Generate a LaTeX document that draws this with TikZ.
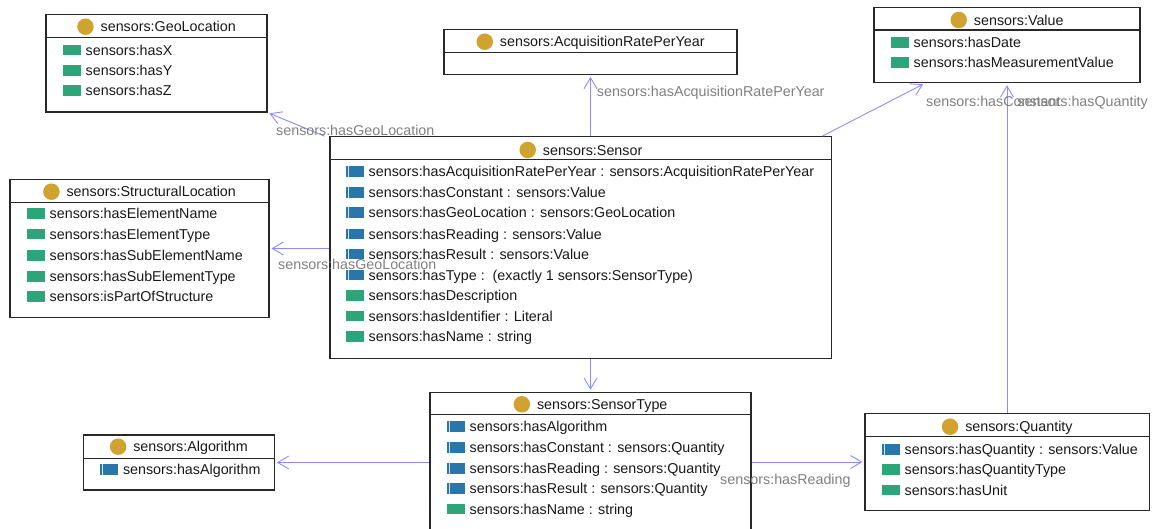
\documentclass[tikz,border=0pt]{standalone}
\usepackage{fontspec}
\setmainfont{Liberation Sans}
\usetikzlibrary{arrows.meta,fit}
\definecolor{goldc}{RGB}{208,162,48}
\definecolor{greenic}{RGB}{44,166,120}
\definecolor{blueic}{RGB}{40,118,170}
\definecolor{connc}{RGB}{140,140,255}
\definecolor{labc}{RGB}{128,128,128}
\definecolor{boxc}{RGB}{40,40,40}
\definecolor{txtc}{RGB}{25,25,25}
\tikzset{
  clsbox/.style={draw=boxc, line width=1.1pt, inner sep=0pt, fill=white},
  divl/.style={draw=boxc, line width=1.1pt},
  ttl/.style={anchor=center, inner sep=0pt, text height=10.3pt, text depth=0pt,
    font=\fontsize{14.3}{16}\selectfont, text=txtc},
  rowtxt/.style={anchor=west, inner sep=0pt, text height=10.3pt, text depth=0pt,
    font=\fontsize{14.3}{16}\selectfont, text=txtc},
  golddot/.style={circle, fill=goldc, minimum size=16.5pt, inner sep=0pt},
  dataicon/.style={rectangle, fill=greenic, minimum width=18pt, minimum height=10.5pt, inner sep=0pt},
  objicon/.style={rectangle, fill=blueic, minimum width=18pt, minimum height=10.5pt, inner sep=0pt,
    path picture={\draw[white!80!blueic, line width=1pt]
      ([xshift=2.6pt]path picture bounding box.south west) --
      ([xshift=2.6pt]path picture bounding box.north west);}},
  conn/.style={draw=connc, line width=0.9pt, -{Straight Barb[length=11pt,width=13pt]}, shorten >=2pt},
  lab/.style={inner sep=0pt, text height=10.3pt, text depth=0pt,
    font=\fontsize{14.3}{16}\selectfont, text=labc}
}
% #1 name, #2 centre x of box, #3 y, #4 text
\newcommand\ctitle[4]{%
  \node[ttl] (#1) at (#2+11.75,#3) {#4};
  \node[golddot] (#1-dot) at ([xshift=-15pt]#1.west) {};}
% #1 name, #2 box left x, #3 y, #4 icon style, #5 text
\newcommand\prow[5]{%
  \node[#4] (#1-i) at (#2+25.5,#3) {};
  \node[rowtxt] (#1) at (#2+39.5,#3) {#5};}
\begin{document}
\begin{tikzpicture}[x=1pt,y=-1pt]
\clip (0,0) rectangle (1153,529);
\fill[white] (0,0) rectangle (1153,529);

% GeoLocation
\node[clsbox, fit={(46,14.7) (267,112)}] (geo) {};
\draw[divl] (46,37.7) -- (267,37.7);
\ctitle{geo-t}{156.5}{26.7}{sensors:GeoLocation}
\prow{geo-1}{46}{50}{dataicon}{sensors:hasX}
\prow{geo-2}{46}{70.3}{dataicon}{sensors:hasY}
\prow{geo-3}{46}{90.7}{dataicon}{sensors:hasZ}

% AcquisitionRatePerYear
\node[clsbox, fit={(444,29.3) (737,74.3)}] (acq) {};
\draw[divl] (444,52.3) -- (737,52.3);
\ctitle{acq-t}{590.5}{41.7}{sensors:AcquisitionRatePerYear}

% Value
\node[clsbox, fit={(874,7.3) (1140,82.7)}] (value) {};
\draw[divl] (874,30) -- (1140,30);
\ctitle{value-t}{1007}{20}{sensors:Value}
\prow{value-1}{874}{42.7}{dataicon}{sensors:hasDate}
\prow{value-2}{874}{62.7}{dataicon}{sensors:hasMeasurementValue}

% StructuralLocation
\node[clsbox, fit={(10,179.3) (269,317.7)}] (struct) {};
\draw[divl] (10,202.7) -- (269,202.7);
\ctitle{struct-t}{139.5}{191.7}{sensors:StructuralLocation}
\prow{struct-1}{10}{213.3}{dataicon}{sensors:hasElementName}
\prow{struct-2}{10}{234}{dataicon}{sensors:hasElementType}
\prow{struct-3}{10}{255.7}{dataicon}{sensors:hasSubElementName}
\prow{struct-4}{10}{276.7}{dataicon}{sensors:hasSubElementType}
\prow{struct-5}{10}{296.7}{dataicon}{sensors:isPartOfStructure}

% Sensor
\node[clsbox, fit={(330,136.7) (831.7,358.3)}] (sensor) {};
\draw[divl] (330,159.3) -- (831.7,159.3);
\ctitle{sensor-t}{580.85}{150}{sensors:Sensor}
\prow{sensor-1}{329}{171.7}{objicon}{sensors:hasAcquisitionRatePerYear : sensors:AcquisitionRatePerYear}
\prow{sensor-2}{329}{192.3}{objicon}{sensors:hasConstant : sensors:Value}
\prow{sensor-3}{329}{212.3}{objicon}{sensors:hasGeoLocation : sensors:GeoLocation}
\prow{sensor-4}{329}{234}{objicon}{sensors:hasReading : sensors:Value}
\prow{sensor-5}{329}{254}{objicon}{sensors:hasResult : sensors:Value}
\prow{sensor-6}{329}{275}{objicon}{sensors:hasType :\ \ (exactly 1 sensors:SensorType)}
\prow{sensor-7}{329}{295.7}{dataicon}{sensors:hasDescription}
\prow{sensor-8}{329}{316}{dataicon}{sensors:hasIdentifier : Literal}
\prow{sensor-9}{329}{336.7}{dataicon}{sensors:hasName : string}

% Algorithm
\node[clsbox, fit={(83.3,435) (274.3,490)}] (algo) {};
\draw[divl] (83.3,458.3) -- (274.3,458.3);
\ctitle{algo-t}{178.8}{446.7}{sensors:Algorithm}
\prow{algo-1}{83.3}{469.3}{objicon}{sensors:hasAlgorithm}

% SensorType
\node[clsbox, fit={(430,392.3) (751,545)}] (stype) {};
\draw[divl] (430,414.3) -- (751,414.3);
\ctitle{stype-t}{590.5}{404.3}{sensors:SensorType}
\prow{stype-1}{430}{426.7}{objicon}{sensors:hasAlgorithm}
\prow{stype-2}{430}{447.7}{objicon}{sensors:hasConstant : sensors:Quantity}
\prow{stype-3}{430}{468.3}{objicon}{sensors:hasReading : sensors:Quantity}
\prow{stype-4}{430}{488.3}{objicon}{sensors:hasResult : sensors:Quantity}
\prow{stype-5}{430}{509}{dataicon}{sensors:hasName : string}

% Quantity
\node[clsbox, fit={(865,413.3) (1149.3,510.7)}] (quantity) {};
\draw[divl] (865,436.7) -- (1149.3,436.7);
\ctitle{quantity-t}{1007.15}{426.7}{sensors:Quantity}
\prow{quantity-1}{865}{449.3}{objicon}{sensors:hasQuantity : sensors:Value}
\prow{quantity-2}{865}{469.3}{dataicon}{sensors:hasQuantityType}
\prow{quantity-3}{865}{490}{dataicon}{sensors:hasUnit}

% connectors
\draw[conn] ([xshift=-5pt]sensor.north west) -- (geo.south east);
\draw[conn] (acq.south |- sensor.north) -- (acq.south);
\draw[conn] ([xshift=-10pt]sensor.north east) -- ([xshift=-82pt]value.south);
\draw[conn] (value.south |- quantity.north) -- (value.south);
\draw[conn] (sensor.west |- struct.east) -- (struct.east);
\draw[conn] (stype.north |- sensor.south) -- (stype.north);
\draw[conn] (stype.west |- algo.east) -- (algo.east);
\draw[conn] (stype.east |- quantity.west) -- (quantity.west);

% labels
\node[lab, anchor=west] (l-geo) at (276,130) {sensors:hasGeoLocation};
\node[lab, anchor=west] (l-acq) at (596.7,91.7) {sensors:hasAcquisitionRatePerYear};
\node[lab, anchor=west] (l-const) at (926,101) {sensors:hasConstant};
\node[lab, anchor=east] (l-qty) at (1148,101) {sensors:hasQuantity};
\node[lab, anchor=west] (l-struct) at (278,264.3) {sensors:hasGeoLocation};
\node[lab, anchor=west] (l-read) at (720,479) {sensors:hasReading};
\end{tikzpicture}
\end{document}
